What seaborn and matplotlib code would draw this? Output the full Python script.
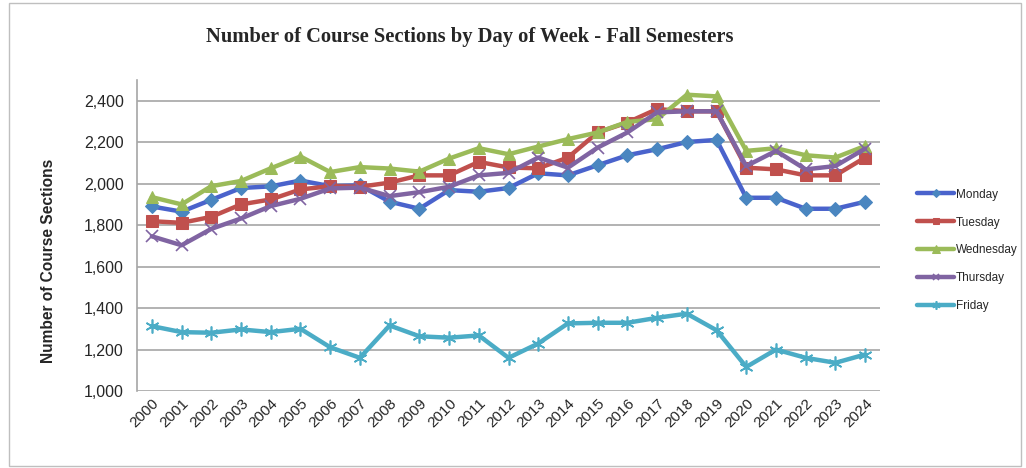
import pandas as pd
import seaborn as sns
import matplotlib.pyplot as plt
from matplotlib.patches import Rectangle

# Data
years = [str(y) for y in range(2000, 2025)]
monday = [1890, 1865, 1922, 1979, 1987, 2015, 1988, 1992, 1913, 1879, 1969, 1961, 1979,
          2050, 2040, 2089, 2137, 2166, 2201, 2211, 1932, 1932, 1879, 1879, 1913]
tuesday = [1819, 1811, 1840, 1900, 1924, 1972, 1988, 1985, 2005, 2040, 2040, 2105, 2078,
           2074, 2126, 2247, 2295, 2360, 2349, 2349, 2077, 2069, 2040, 2040, 2126]
wednesday = [1935, 1900, 1988, 2013, 2074, 2131, 2056, 2080, 2073, 2058, 2121, 2171, 2142,
             2179, 2215, 2247, 2298, 2311, 2429, 2421, 2158, 2171, 2137, 2126, 2182]
thursday = [1746, 1703, 1782, 1832, 1892, 1927, 1977, 1981, 1940, 1959, 1985, 2040, 2052,
            2126, 2077, 2174, 2247, 2344, 2349, 2349, 2085, 2158, 2069, 2085, 2169]
friday = [1313, 1284, 1281, 1297, 1284, 1300, 1211, 1160, 1316, 1264, 1257, 1268, 1160,
          1229, 1326, 1329, 1329, 1353, 1373, 1293, 1116, 1200, 1160, 1136, 1176]

series = {'Monday': monday, 'Tuesday': tuesday, 'Wednesday': wednesday,
          'Thursday': thursday, 'Friday': friday}

styles = {
    'Monday': dict(color='#4A63CC', marker='D', mfc='#4A86C0', mec='#4A86C0', ms=7.5),
    'Tuesday': dict(color='#C0504D', marker='s', mfc='#C0504D', mec='#C0504D', ms=8),
    'Wednesday': dict(color='#9BBB59', marker='^', mfc='#9BBB59', mec='#9BBB59', ms=9),
    'Thursday': dict(color='#8064A2', marker='x', mfc='#8064A2', mec='#8064A2', ms=8, mew=1.2),
    'Friday': dict(color='#4BACC6', marker=(6, 2, 0), mfc='#4BACC6', mec='#4BACC6', ms=10, mew=1.2),
}

sns.set_style('white')
plt.rcParams['font.family'] = ['Liberation Sans', 'DejaVu Sans']

fig = plt.figure(figsize=(10.26, 4.68), dpi=100)
ax = fig.add_axes([137 / 1026, 1 - 391 / 468, (880 - 137) / 1026, (391 - 80) / 468])

for day, vals in series.items():
    df = pd.DataFrame({'year': years, 'sections': vals})
    sns.lineplot(data=df, x='year', y='sections', ax=ax, label=day, lw=3.2, **styles[day])

ax.set_xlim(-0.5, len(years) - 0.5)
ax.set_ylim(1000, 2500)
ax.set_yticks(range(1000, 2401, 200))
ax.set_yticklabels([f'{v:,}' for v in range(1000, 2401, 200)], fontsize=11.5)
ax.yaxis.grid(True, color='#A6A6A6', lw=1.2)
ax.set_axisbelow(True)
ax.tick_params(axis='x', labelrotation=45, labelsize=11, pad=0)
for lab in ax.get_xticklabels():
    lab.set_ha('right')
    lab.set_rotation_mode('anchor')
ax.tick_params(axis='y', pad=6)

for s in ['top', 'right', 'bottom']:
    ax.spines[s].set_visible(False)
ax.spines['left'].set_color('#A6A6A6')
ax.spines['left'].set_linewidth(1.2)

ax.set_xlabel('')
ax.set_ylabel('Number of Course Sections', fontsize=11.2, fontweight='bold')
ax.yaxis.set_label_coords(-0.109, 0.42)

fig.text(470 / 1026, 1 - 37 / 468, 'Number of Course Sections by Day of Week - Fall Semesters',
         ha='center', va='center', fontsize=14.8, fontweight='bold', family=['Liberation Serif'])

leg = ax.legend(loc='upper left', bbox_to_anchor=(1.035, 0.685), frameon=False,
                fontsize=8.5, handlelength=3.2, labelspacing=1.35, handletextpad=0.1,
                markerscale=0.6)

fig.patches.append(Rectangle((9 / 1026, 2 / 468), 1012 / 1026, 463 / 468, transform=fig.transFigure,
                             fill=False, edgecolor='#BFBFBF', lw=1))

fig.savefig('out.png', dpi=100)
